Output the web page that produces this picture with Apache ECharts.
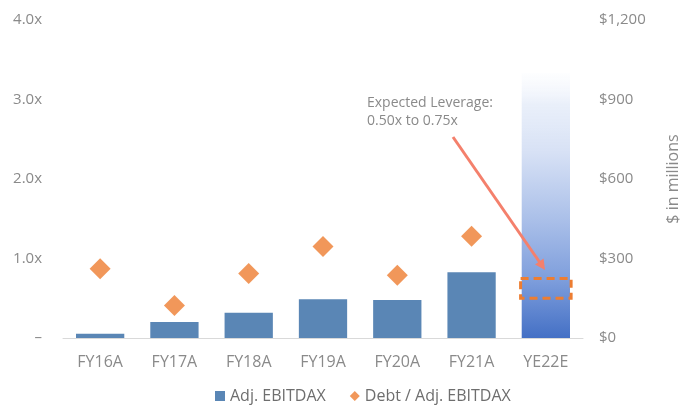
<!DOCTYPE html>
<html>
<head>
<meta charset="utf-8">
<script src="https://cdn.jsdelivr.net/npm/echarts@6/dist/echarts.min.js"></script>
<style>
  html, body { margin: 0; padding: 0; background: #fff; }
  #chart { width: 689px; height: 410px; }
</style>
</head>
<body>
<div id="chart"></div>
<script>
// Fiscal periods on the x axis
const categories = ['FY16A', 'FY17A', 'FY18A', 'FY19A', 'FY20A', 'FY21A', 'YE22E'];
// Adj. EBITDAX, $ in millions (YE22E is an illustrative projection bar)
const ebitdax = [16, 60, 95, 146, 143, 248, 1000];
// Debt / Adj. EBITDAX leverage multiple
const leverage = [0.87, 0.41, 0.81, 1.15, 0.79, 1.28, null];
// Expected leverage range for YE22E: [category index, low, high]
const expectedRange = [[6, 0.50, 0.75]];
const leftTicks = { min: 0, max: 4, interval: 1 };
const rightTicks = { min: 0, max: 1200, interval: 300 };

const FONT = '"Open Sans", sans-serif';
const GREY = '#8a8a8a';
const BAR = '#5A86B5';
const ORANGE = '#ED7D31';
const ARROW = '#F4806C';

const chart = echarts.init(document.getElementById('chart'));

const barData = ebitdax.map((v, i) => {
  if (categories[i] === 'YE22E') {
    return {
      value: v,
      itemStyle: {
        color: new echarts.graphic.LinearGradient(0, 0, 0, 1, [
          { offset: 0, color: 'rgba(240,244,252,0.15)' },
          { offset: 0.12, color: 'rgba(226,234,248,0.75)' },
          { offset: 0.3, color: '#d7e1f5' },
          { offset: 0.55, color: '#abc0e9' },
          { offset: 0.78, color: '#7e9edc' },
          { offset: 1, color: '#4470c5' }
        ])
      }
    };
  }
  return v;
});

chart.setOption({
  animation: false,
  textStyle: { fontFamily: FONT },
  grid: { left: 63, right: 102, top: 20, bottom: 72 },
  legend: {
    data: [
      { name: 'Adj. EBITDAX', icon: 'rect' },
      { name: 'Debt / Adj. EBITDAX', icon: 'diamond' }
    ],
    bottom: 1,
    left: 210,
    itemWidth: 10,
    itemHeight: 10,
    itemGap: 24,
    textStyle: { color: '#6e6e6e', fontSize: 16, fontFamily: FONT }
  },
  xAxis: {
    type: 'category',
    data: categories,
    axisLine: { lineStyle: { color: '#d9d9d9', width: 1 } },
    axisTick: { show: false },
    axisLabel: { color: GREY, fontSize: 16, margin: 16, fontFamily: FONT }
  },
  yAxis: [
    {
      type: 'value',
      min: leftTicks.min, max: leftTicks.max, interval: leftTicks.interval,
      splitLine: { show: false },
      axisLine: { show: false },
      axisTick: { show: false },
      axisLabel: {
        color: GREY, fontSize: 15, margin: 21, fontFamily: FONT,
        formatter: v => (v === 0 ? '–' : v.toFixed(1) + 'x')
      }
    },
    {
      type: 'value',
      min: rightTicks.min, max: rightTicks.max, interval: rightTicks.interval,
      position: 'right',
      name: '$ in millions',
      nameLocation: 'middle',
      nameGap: 82,
      nameRotate: 90,
      nameTextStyle: { color: GREY, fontSize: 16, fontFamily: FONT },
      splitLine: { show: false },
      axisLine: { show: false },
      axisTick: { show: false },
      axisLabel: {
        color: GREY, fontSize: 15, margin: 16, fontFamily: FONT,
        formatter: v => '$' + v.toLocaleString('en-US')
      }
    }
  ],
  series: [
    {
      name: 'Adj. EBITDAX',
      type: 'bar',
      yAxisIndex: 1,
      barWidth: '65%',
      itemStyle: { color: BAR },
      data: barData
    },
    {
      name: 'Debt / Adj. EBITDAX',
      type: 'scatter',
      yAxisIndex: 0,
      symbol: 'diamond',
      symbolSize: 21,
      itemStyle: { color: ORANGE },
      data: leverage
    },
    {
      name: 'Expected range',
      type: 'custom',
      yAxisIndex: 0,
      z: 10,
      data: expectedRange,
      renderItem: (params, api) => {
        const lo = api.coord([api.value(0), api.value(1)]);
        const hi = api.coord([api.value(0), api.value(2)]);
        const w = api.size([1, 0])[0] * 0.68;
        return {
          type: 'rect',
          shape: { x: lo[0] - w / 2, y: hi[1], width: w, height: lo[1] - hi[1] },
          style: { fill: 'none', stroke: ORANGE, lineWidth: 3, lineDash: [8, 5] }
        };
      }
    }
  ],
  graphic: [
    {
      type: 'text',
      left: 367, top: 94, z: 100,
      style: {
        text: 'Expected Leverage:\n0.50x to 0.75x',
        fill: GREY, font: '14px ' + FONT, lineHeight: 18
      }
    },
    {
      type: 'line', z: 100,
      shape: { x1: 453, y1: 137, x2: 539.5, y2: 262 },
      style: { stroke: ARROW, lineWidth: 3 }
    },
    {
      type: 'polygon', z: 100,
      shape: { points: [[545, 270], [535, 264.5], [543.6, 258.6]] },
      style: { fill: ARROW }
    }
  ]
});
</script>
</body>
</html>
